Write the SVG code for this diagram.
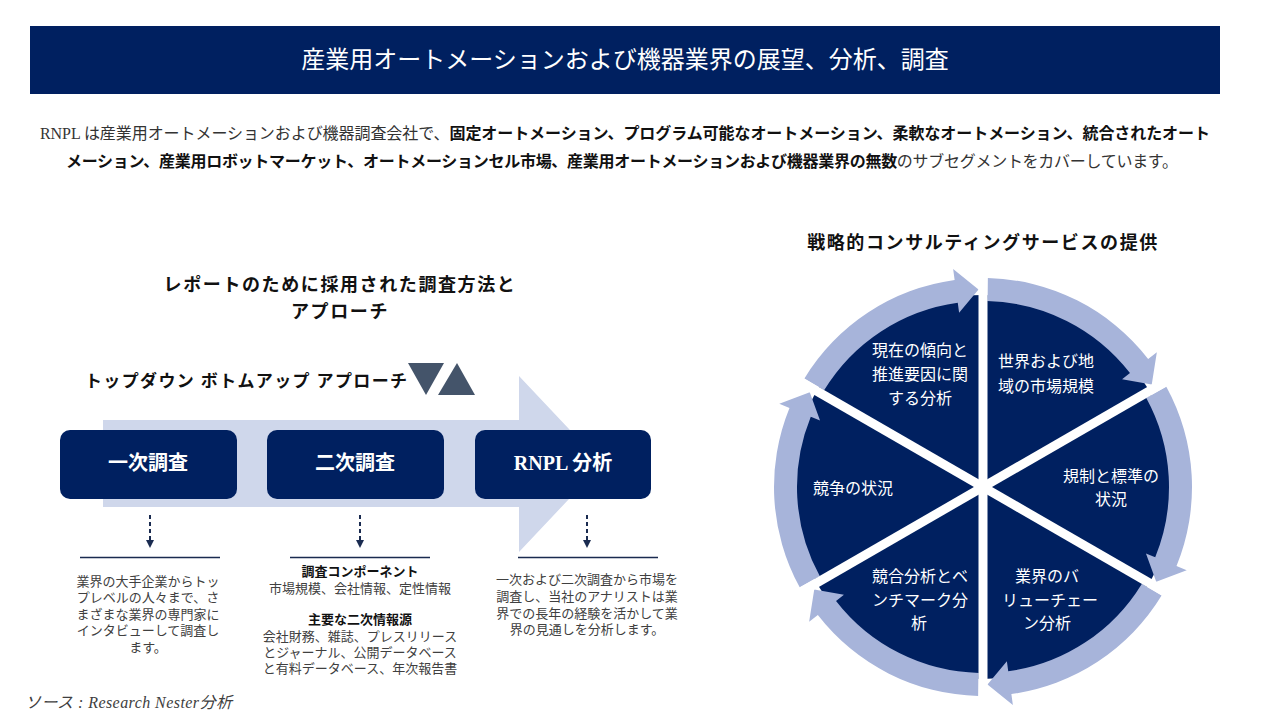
<svg xmlns="http://www.w3.org/2000/svg" width="1280" height="720" viewBox="0 0 1280 720">
<style>
.jp{font-family:"Liberation Serif","Noto Sans CJK JP",serif;}
.sans{font-family:"Noto Sans CJK JP","Noto Sans",sans-serif;}
.title{font-size:18px;font-weight:bold;fill:#111;letter-spacing:1.6px;text-anchor:middle;}
.box{fill:#002060;}
.boxtxt{font-size:20px;font-weight:bold;fill:#fff;text-anchor:middle;}
.body{font-size:13px;fill:#404040;text-anchor:middle;}
.bodyb{font-size:13px;fill:#111;font-weight:bold;text-anchor:middle;}
.pietxt{font-size:16px;fill:#fff;text-anchor:middle;}
.ring{fill:#a7b4da;}
.dash{stroke:#1a2b50;stroke-width:2;stroke-dasharray:4 3;fill:none;}
.rule{stroke:#1a2b50;stroke-width:1.3;}
</style>
<defs>
<marker id="ah" viewBox="0 0 8 8" refX="4" refY="4" markerWidth="8" markerHeight="8" markerUnits="userSpaceOnUse" orient="auto">
<path d="M0 0 L8 4 L0 8 Z" fill="#1a2b50"/>
</marker>
<path id="seg" d="M 987.74 278.05 A 209 209 0 0 1 1148.14 358.90 L 1156.84 352.16 L 1151.76 384.39 L 1122.07 379.13 L 1129.97 373.00 A 186 186 0 0 0 987.22 301.05 Z"/>
</defs>
<rect width="1280" height="720" fill="#fff"/>

<g id="header">
<rect x="30" y="26" width="1190" height="68" fill="#002060"/>
<text x="625" y="68" class="sans" font-size="24" fill="#fff" text-anchor="middle">産業用オートメーションおよび機器業界の展望、分析、調査</text>
</g>

<g id="intro" class="jp" font-size="16">
<text x="40" y="139" textLength="1170" lengthAdjust="spacing" fill="#333">RNPL は産業用オートメーションおよび機器調査会社で、<tspan font-weight="bold" fill="#111">固定オートメーション、プログラム可能なオートメーション、柔軟なオートメーション、統合されたオート</tspan></text>
<text x="66" y="167" textLength="1112" lengthAdjust="spacing" fill="#333"><tspan font-weight="bold" fill="#111">メーション、産業用ロボットマーケット、オートメーションセル市場、産業用オートメーションおよび機器業界の無数</tspan>のサブセグメントをカバーしています。</text>
</g>

<g id="left-title" class="jp">
<text x="340" y="291" class="title">レポートのために採用された調査方法と</text>
<text x="340" y="318" class="title">アプローチ</text>
</g>

<g id="approach">
<text x="85" y="387" class="jp" font-size="17" font-weight="bold" fill="#111" textLength="322" lengthAdjust="spacing">トップダウン ボトムアップ アプローチ</text>
<polygon points="408,363 444,363 426,395" fill="#44546a"/>
<polygon points="438,395 475,395 457,363" fill="#44546a"/>
</g>

<g id="flow-arrow">
<path d="M103 420 L519 420 L519 376 L602 464 L519 552 L519 507 L103 507 Z" fill="#cfd7eb"/>
</g>

<g id="node-primary">
<rect x="60" y="430" width="177" height="69" rx="10" class="box"/>
<text x="148" y="470" class="jp boxtxt">一次調査</text>
</g>
<g id="node-secondary">
<rect x="267" y="430" width="177" height="69" rx="10" class="box"/>
<text x="355" y="470" class="jp boxtxt">二次調査</text>
</g>
<g id="node-rnpl">
<rect x="475" y="430" width="176" height="69" rx="10" class="box"/>
<text x="563" y="470" class="jp boxtxt">RNPL 分析</text>
</g>

<g id="connectors">
<line x1="150" y1="515" x2="150" y2="544" class="dash" marker-end="url(#ah)"/>
<line x1="360" y1="515" x2="360" y2="544" class="dash" marker-end="url(#ah)"/>
<line x1="587" y1="515" x2="587" y2="544" class="dash" marker-end="url(#ah)"/>
<line x1="80" y1="557.5" x2="220" y2="557.5" class="rule"/>
<line x1="290" y1="557.5" x2="430" y2="557.5" class="rule"/>
<line x1="518" y1="557.5" x2="658" y2="557.5" class="rule"/>
</g>

<g id="text-primary" class="jp">
<text x="148" y="586" class="body">業界の大手企業からトッ</text>
<text x="148" y="602" class="body">プレベルの人々まで、さ</text>
<text x="148" y="619" class="body">まざまな業界の専門家に</text>
<text x="148" y="635" class="body">インタビューして調査し</text>
<text x="148" y="652" class="body">ます。</text>
</g>
<g id="text-secondary" class="jp">
<text x="360" y="576" class="bodyb">調査コンポーネント</text>
<text x="360" y="593" class="body">市場規模、会社情報、定性情報</text>
<text x="360" y="624" class="bodyb">主要な二次情報源</text>
<text x="360" y="641" class="body">会社財務、雑誌、プレスリリース</text>
<text x="360" y="657" class="body">とジャーナル、公開データベース</text>
<text x="360" y="673" class="body">と有料データベース、年次報告書</text>
</g>
<g id="text-rnpl" class="jp">
<text x="587" y="584" class="body">一次および二次調査から市場を</text>
<text x="587" y="601" class="body">調査し、当社のアナリストは業</text>
<text x="587" y="618" class="body">界での長年の経験を活かして業</text>
<text x="587" y="634" class="body">界の見通しを分析します。</text>
</g>

<g id="source">
<text x="25" y="708" class="jp" font-size="16" font-style="italic" fill="#404040" textLength="207" lengthAdjust="spacing">ソース : Research Nester分析</text>
</g>

<g id="right-title" class="jp">
<text x="983" y="249" class="title">戦略的コンサルティングサービスの提供</text>
</g>

<g id="pie">
<circle cx="983" cy="487" r="192" fill="#002060"/>
<g id="ring" class="ring">
<use href="#seg"/>
<use href="#seg" transform="rotate(60 983 487)"/>
<use href="#seg" transform="rotate(120 983 487)"/>
<use href="#seg" transform="rotate(180 983 487)"/>
<use href="#seg" transform="rotate(240 983 487)"/>
<use href="#seg" transform="rotate(300 983 487)"/>
</g>
<g id="dividers" stroke="#fff" stroke-width="9">
<line x1="983" y1="262" x2="983" y2="712"/>
<line x1="788" y1="599.5" x2="1178" y2="374.5"/>
<line x1="788" y1="374.5" x2="1178" y2="599.5"/>
</g>
</g>

<g id="seg-trends" class="jp">
<text x="920" y="356" class="pietxt">現在の傾向と</text>
<text x="920" y="380" class="pietxt">推進要因に関</text>
<text x="920" y="404" class="pietxt">する分析</text>
</g>
<g id="seg-market" class="jp">
<text x="1046" y="367" class="pietxt">世界および地</text>
<text x="1046" y="392" class="pietxt">域の市場規模</text>
</g>
<g id="seg-regulation" class="jp">
<text x="1111" y="482" class="pietxt">規制と標準の</text>
<text x="1111" y="505" class="pietxt">状況</text>
</g>
<g id="seg-value" class="jp">
<text x="1047" y="582" class="pietxt">業界のバ</text>
<text x="1050" y="606" class="pietxt">リューチェー</text>
<text x="1047" y="629" class="pietxt">ン分析</text>
</g>
<g id="seg-bench" class="jp">
<text x="920" y="582" class="pietxt">競合分析とベ</text>
<text x="920" y="606" class="pietxt">ンチマーク分</text>
<text x="919" y="629" class="pietxt">析</text>
</g>
<g id="seg-competition" class="jp">
<text x="853" y="494" class="pietxt">競争の状況</text>
</g>
</svg>
